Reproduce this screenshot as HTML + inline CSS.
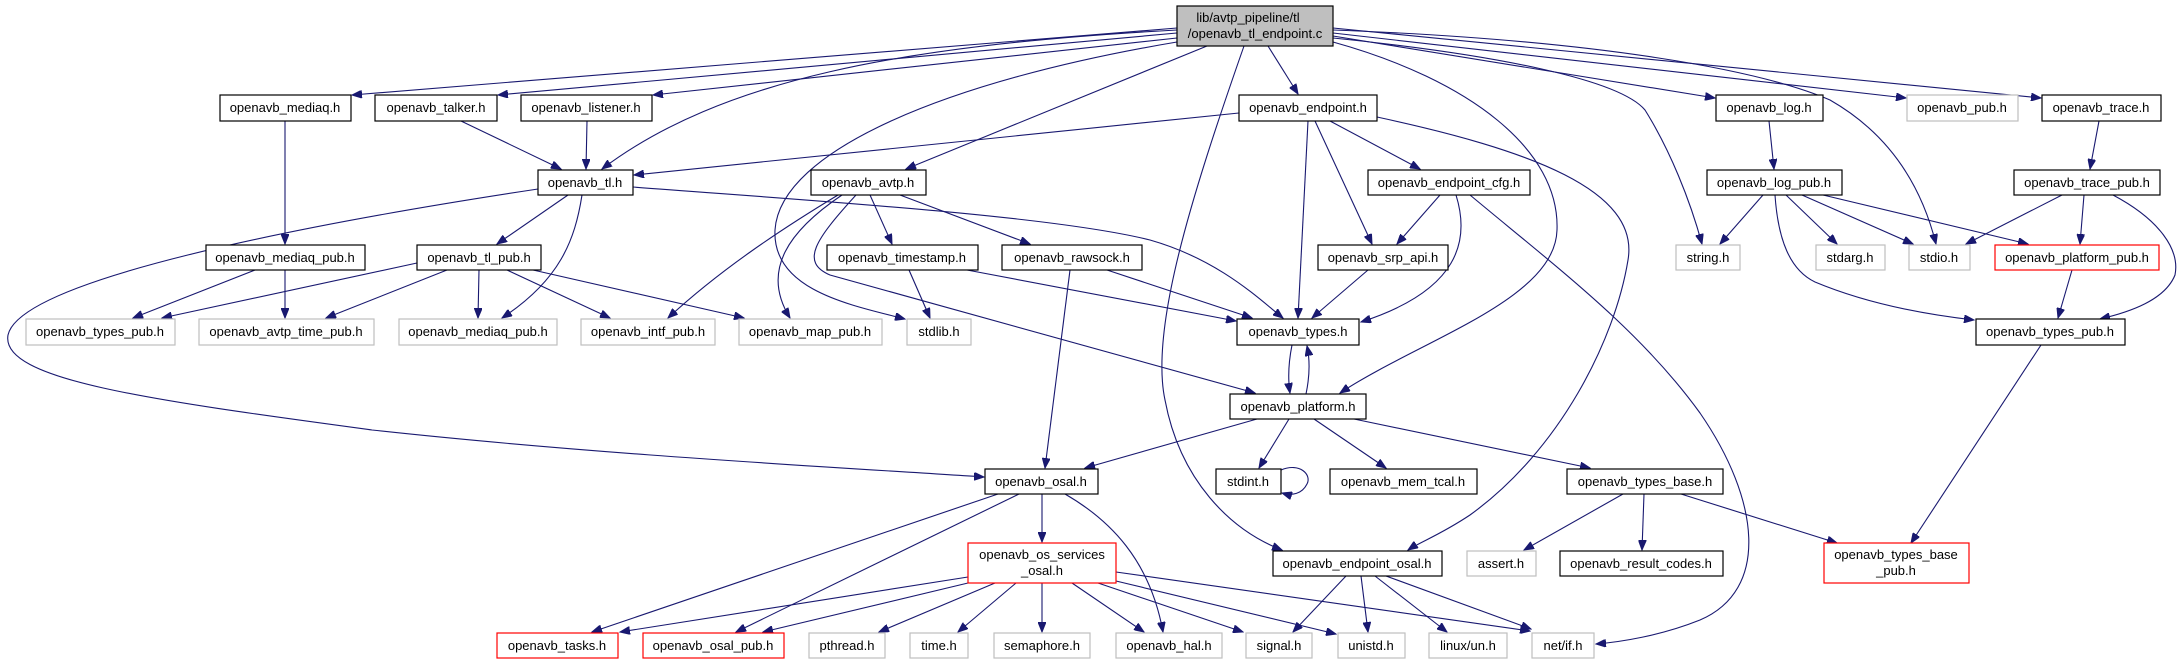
<!DOCTYPE html>
<html><head><meta charset="utf-8"><style>
html,body{margin:0;padding:0;background:#fff;}
svg{display:block;}
text{font-family:"Liberation Sans",Arial,sans-serif;font-size:13px;fill:#000;text-anchor:middle;}
.b{fill:#fff;stroke:#000;stroke-width:1.2;}
.g{fill:#fff;stroke:#bfbfbf;stroke-width:1.2;}
.r{fill:#fff;stroke:#ff0000;stroke-width:1.2;}
.e{fill:none;stroke:#191970;stroke-width:1.1;marker-end:url(#a);}
</style></head><body>
<svg width="2181" height="664" viewBox="0 0 2181 664" xmlns="http://www.w3.org/2000/svg">
<defs><marker id="a" markerUnits="userSpaceOnUse" markerWidth="11" markerHeight="8" refX="10" refY="4" orient="auto"><path d="M0,0 L10,4 L0,8 z" fill="#191970" stroke="#191970"/></marker></defs>

<!-- edges from top -->
<path class="e" d="M1177,28 L352,95"/>
<path class="e" d="M1177,33 L498,95"/>
<path class="e" d="M1177,38 L653,95"/>
<path class="e" d="M1177,30 C900,45 720,80 602,169"/>
<path class="e" d="M1207,46 L906,169"/>
<path class="e" d="M1177,42 C950,80 780,150 775,230 C772,290 850,305 905,319"/>
<path class="e" d="M1268,46 L1298,94"/>
<path class="e" d="M1244,46 C1190,200 1150,330 1165,400 C1180,480 1230,530 1282,550"/>
<path class="e" d="M1333,42 C1470,80 1560,150 1557,230 C1555,300 1420,340 1340,393"/>
<path class="e" d="M1333,38 C1500,55 1620,80 1645,110 C1670,150 1690,200 1702,244"/>
<path class="e" d="M1333,36 L1715,98"/>
<path class="e" d="M1333,30 C1600,40 1760,70 1830,100 C1900,140 1925,200 1936,244"/>
<path class="e" d="M1333,33 L1906,98"/>
<path class="e" d="M1333,28 L2041,98"/>

<!-- endpoint.h -->
<path class="e" d="M1239,113 L634,175"/>
<path class="e" d="M1308,121 L1298,318"/>
<path class="e" d="M1315,121 L1372,244"/>
<path class="e" d="M1330,121 L1420,169"/>
<path class="e" d="M1377,117 C1530,150 1640,190 1628,260 C1615,340 1560,450 1470,515 C1440,535 1420,542 1408,550"/>
<!-- endpoint_cfg -->
<path class="e" d="M1440,195 L1397,244"/>
<path class="e" d="M1456,195 C1470,240 1460,290 1361,322"/>
<path class="e" d="M1470,195 C1560,270 1640,330 1700,413 C1760,500 1770,590 1700,620 C1660,636 1620,642 1596,644"/>

<!-- tl.h -->
<path class="e" d="M568,195 L497,244"/>
<path class="e" d="M582,195 C575,240 560,280 502,318"/>
<path class="e" d="M538,189 C300,225 20,280 8,335 C0,380 150,400 372,430 C600,455 850,468 984,477"/>
<path class="e" d="M633,187 C800,200 1050,215 1150,240 C1220,260 1260,300 1283,318"/>

<!-- avtp.h -->
<path class="e" d="M838,195 C780,230 720,270 668,318"/>
<path class="e" d="M842,195 C790,230 760,270 790,318"/>
<path class="e" d="M856,195 C815,240 800,262 830,275 L1255,393"/>
<path class="e" d="M870,195 L892,244"/>
<path class="e" d="M900,195 L1030,244"/>

<!-- timestamp, rawsock, srp -->
<path class="e" d="M909,270 L930,318"/>
<path class="e" d="M967,270 L1236,321"/>
<path class="e" d="M1107,270 L1252,318"/>
<path class="e" d="M1070,270 L1045,468"/>
<path class="e" d="M1368,270 L1312,318"/>

<!-- types <-> platform -->
<path class="e" d="M1292,345 C1288,365 1288,380 1290,393"/>
<path class="e" d="M1306,394 C1310,375 1310,360 1307,346"/>

<!-- platform -->
<path class="e" d="M1257,419 L1085,468"/>
<path class="e" d="M1289,419 L1259,468"/>
<path class="e" d="M1314,419 L1386,468"/>
<path class="e" d="M1354,419 L1590,468"/>
<path class="e" d="M1281,470 C1300,462 1312,475 1307,484 C1302,494 1292,496 1282,493"/>

<!-- osal -->
<path class="e" d="M1042,494 L1042,542"/>
<path class="e" d="M998,494 L592,632"/>
<path class="e" d="M1019,494 L736,632"/>
<path class="e" d="M1065,494 C1110,520 1150,560 1163,632"/>

<!-- os_services -->
<path class="e" d="M968,577 L620,632"/>
<path class="e" d="M968,583 L763,632"/>
<path class="e" d="M995,583 L879,632"/>
<path class="e" d="M1016,583 L958,632"/>
<path class="e" d="M1042,583 L1042,632"/>
<path class="e" d="M1072,583 L1144,632"/>
<path class="e" d="M1098,583 L1243,632"/>
<path class="e" d="M1116,581 L1336,634"/>
<path class="e" d="M1116,572 L1530,631"/>

<!-- endpoint_osal -->
<path class="e" d="M1346,576 L1293,632"/>
<path class="e" d="M1361,576 L1368,632"/>
<path class="e" d="M1375,576 L1447,632"/>
<path class="e" d="M1386,576 L1531,629"/>

<!-- types_base -->
<path class="e" d="M1623,494 L1524,550"/>
<path class="e" d="M1644,494 L1642,550"/>
<path class="e" d="M1681,494 L1837,543"/>
<path class="e" d="M2041,345 L1911,543"/>

<!-- log / trace -->
<path class="e" d="M1769,121 L1774,169"/>
<path class="e" d="M1763,195 L1720,244"/>
<path class="e" d="M1786,195 L1837,244"/>
<path class="e" d="M1802,195 L1913,244"/>
<path class="e" d="M1823,195 L2028,244"/>
<path class="e" d="M1775,195 C1778,240 1790,270 1815,282 C1870,305 1930,315 1974,320"/>
<path class="e" d="M2099,121 L2090,169"/>
<path class="e" d="M2062,195 L1966,244"/>
<path class="e" d="M2084,195 L2080,244"/>
<path class="e" d="M2113,195 C2160,220 2180,250 2175,275 C2165,300 2130,312 2100,319"/>
<path class="e" d="M2072,270 L2058,318"/>

<!-- left side -->
<path class="e" d="M285,121 L285,244"/>
<path class="e" d="M461,121 L561,169"/>
<path class="e" d="M587,121 L586,169"/>
<path class="e" d="M255,270 L133,318"/>
<path class="e" d="M285,270 L285,318"/>
<path class="e" d="M417,263 L162,318"/>
<path class="e" d="M447,270 L326,318"/>
<path class="e" d="M479,270 L478,318"/>
<path class="e" d="M507,270 L610,318"/>
<path class="e" d="M533,270 L744,318"/>

<!-- nodes -->
<rect x="1177" y="6" width="156" height="40" fill="#bfbfbf" stroke="#000" stroke-width="1.2"/>
<text x="1248" y="22">lib/avtp_pipeline/tl</text>
<text x="1255" y="38">/openavb_tl_endpoint.c</text>

<rect class="b" x="220" y="95" width="131" height="26"/><text x="285" y="112">openavb_mediaq.h</text>
<rect class="b" x="375" y="95" width="122" height="26"/><text x="436" y="112">openavb_talker.h</text>
<rect class="b" x="521" y="95" width="131" height="26"/><text x="586" y="112">openavb_listener.h</text>
<rect class="b" x="1239" y="95" width="138" height="26"/><text x="1308" y="112">openavb_endpoint.h</text>
<rect class="b" x="1716" y="95" width="107" height="26"/><text x="1769" y="112">openavb_log.h</text>
<rect class="g" x="1907" y="95" width="111" height="26"/><text x="1962" y="112">openavb_pub.h</text>
<rect class="b" x="2042" y="95" width="119" height="26"/><text x="2101" y="112">openavb_trace.h</text>

<rect class="b" x="538" y="170" width="95" height="25"/><text x="585" y="187">openavb_tl.h</text>
<rect class="b" x="811" y="170" width="115" height="25"/><text x="868" y="187">openavb_avtp.h</text>
<rect class="b" x="1368" y="170" width="162" height="25"/><text x="1449" y="187">openavb_endpoint_cfg.h</text>
<rect class="b" x="1707" y="170" width="135" height="25"/><text x="1774" y="187">openavb_log_pub.h</text>
<rect class="b" x="2014" y="170" width="146" height="25"/><text x="2087" y="187">openavb_trace_pub.h</text>

<rect class="b" x="206" y="245" width="159" height="25"/><text x="285" y="262">openavb_mediaq_pub.h</text>
<rect class="b" x="417" y="245" width="124" height="25"/><text x="479" y="262">openavb_tl_pub.h</text>
<rect class="b" x="827" y="245" width="151" height="25"/><text x="902" y="262">openavb_timestamp.h</text>
<rect class="b" x="1002" y="245" width="140" height="25"/><text x="1072" y="262">openavb_rawsock.h</text>
<rect class="b" x="1318" y="245" width="130" height="25"/><text x="1383" y="262">openavb_srp_api.h</text>
<rect class="g" x="1676" y="245" width="64" height="25"/><text x="1708" y="262">string.h</text>
<rect class="g" x="1816" y="245" width="69" height="25"/><text x="1850" y="262">stdarg.h</text>
<rect class="g" x="1909" y="245" width="61" height="25"/><text x="1939" y="262">stdio.h</text>
<rect class="r" x="1995" y="245" width="164" height="25"/><text x="2077" y="262">openavb_platform_pub.h</text>

<rect class="g" x="26" y="319" width="149" height="26"/><text x="100" y="336">openavb_types_pub.h</text>
<rect class="g" x="199" y="319" width="175" height="26"/><text x="286" y="336">openavb_avtp_time_pub.h</text>
<rect class="g" x="399" y="319" width="158" height="26"/><text x="478" y="336">openavb_mediaq_pub.h</text>
<rect class="g" x="581" y="319" width="134" height="26"/><text x="648" y="336">openavb_intf_pub.h</text>
<rect class="g" x="739" y="319" width="143" height="26"/><text x="810" y="336">openavb_map_pub.h</text>
<rect class="g" x="907" y="319" width="64" height="26"/><text x="939" y="336">stdlib.h</text>
<rect class="b" x="1237" y="319" width="122" height="26"/><text x="1298" y="336">openavb_types.h</text>
<rect class="b" x="1976" y="319" width="149" height="26"/><text x="2050" y="336">openavb_types_pub.h</text>

<rect class="b" x="1230" y="394" width="136" height="25"/><text x="1298" y="411">openavb_platform.h</text>

<rect class="b" x="985" y="469" width="113" height="25"/><text x="1041" y="486">openavb_osal.h</text>
<rect class="b" x="1216" y="469" width="65" height="25"/><text x="1248" y="486">stdint.h</text>
<rect class="b" x="1330" y="469" width="147" height="25"/><text x="1403" y="486">openavb_mem_tcal.h</text>
<rect class="b" x="1567" y="469" width="156" height="25"/><text x="1645" y="486">openavb_types_base.h</text>

<rect class="r" x="968" y="543" width="148" height="40"/>
<text x="1042" y="559">openavb_os_services</text><text x="1042" y="575">_osal.h</text>
<rect class="b" x="1273" y="551" width="169" height="25"/><text x="1357" y="568">openavb_endpoint_osal.h</text>
<rect class="g" x="1467" y="551" width="69" height="25"/><text x="1501" y="568">assert.h</text>
<rect class="b" x="1560" y="551" width="163" height="25"/><text x="1641" y="568">openavb_result_codes.h</text>
<rect class="r" x="1824" y="543" width="145" height="40"/>
<text x="1896" y="559">openavb_types_base</text><text x="1896" y="575">_pub.h</text>

<rect class="r" x="497" y="633" width="121" height="25"/><text x="557" y="650">openavb_tasks.h</text>
<rect class="r" x="643" y="633" width="141" height="25"/><text x="713" y="650">openavb_osal_pub.h</text>
<rect class="g" x="809" y="633" width="76" height="25"/><text x="847" y="650">pthread.h</text>
<rect class="g" x="910" y="633" width="58" height="25"/><text x="939" y="650">time.h</text>
<rect class="g" x="994" y="633" width="96" height="25"/><text x="1042" y="650">semaphore.h</text>
<rect class="g" x="1116" y="633" width="106" height="25"/><text x="1169" y="650">openavb_hal.h</text>
<rect class="g" x="1246" y="633" width="66" height="25"/><text x="1279" y="650">signal.h</text>
<rect class="g" x="1338" y="633" width="67" height="25"/><text x="1371" y="650">unistd.h</text>
<rect class="g" x="1429" y="633" width="78" height="25"/><text x="1468" y="650">linux/un.h</text>
<rect class="g" x="1532" y="633" width="62" height="25"/><text x="1563" y="650">net/if.h</text>
</svg>
</body></html>
